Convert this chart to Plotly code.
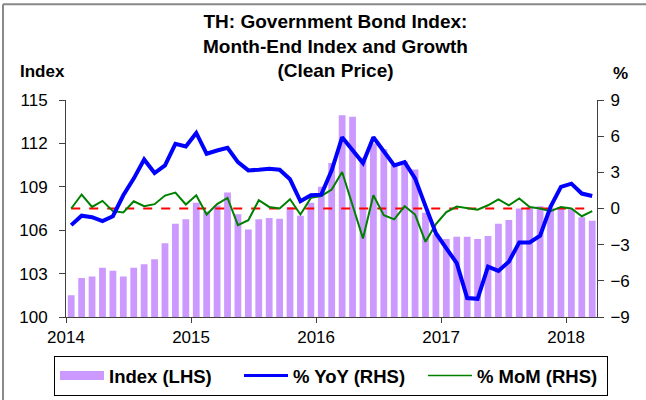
import plotly.graph_objects as go

# Monthly data, Jan 2014 .. Mar 2018
months = list(range(51))
index_lhs = [101.5, 102.7, 102.8, 103.4, 103.2, 102.8, 103.4, 103.65, 104.0, 105.1,
             106.45, 106.75, 107.9, 107.3, 107.7, 108.6, 107.1, 106.05, 106.75, 106.85,
             106.8, 107.6, 107.0, 107.9, 109.0, 110.65, 113.95, 113.85, 111.0, 112.0,
             111.6, 110.5, 110.75, 110.2, 107.2, 105.7, 105.4, 105.55, 105.55, 105.4,
             105.6, 106.45, 106.7, 107.5, 107.6, 107.65, 107.55, 107.6, 107.45, 106.9,
             106.65]
yoy_rhs = [-1.38, -0.6, -0.72, -1.05, -0.64, 1.1, 2.48, 4.07, 2.94, 3.58,
           5.37, 5.14, 6.27, 4.54, 4.81, 5.04, 3.85, 3.16, 3.22, 3.3,
           3.22, 2.42, 0.6, 1.1, 1.15, 3.16, 5.91, 4.85, 3.77, 5.91,
           4.75, 3.58, 3.85, 2.5, 0.2, -2.05, -3.3, -4.54, -7.43, -7.49,
           -4.82, -5.18, -4.41, -2.81, -2.81, -2.26, 0.13, 1.79, 2.06, 1.24,
           1.04]
mom_rhs = [0.0, 1.16, 0.13, 0.63, -0.22, -0.33, 0.6, 0.19, 0.36, 1.07,
           1.32, 0.33, 1.1, -0.5, 0.36, 0.88, -1.38, -0.97, 0.69, 0.13,
           0.0, 0.77, -0.5, 0.88, 1.04, 1.57, 3.03, 0.2, -2.48, 1.1,
           -0.55, -0.9, 0.19, -0.5, -2.76, -1.3, -0.3, 0.16, 0.0, -0.1,
           0.27, 0.76, 0.27, 0.83, 0.13, 0.0, -0.22, 0.13, 0.0, -0.64,
           -0.22]
zero_line = [0.0] * len(months)
year_ticks = [-0.5, 11.5, 23.5, 35.5, 47.5]
year_labels = ["2014", "2015", "2016", "2017", "2018"]
left_ticks = [100, 103, 106, 109, 112, 115]
right_ticks = [-9, -6, -3, 0, 3, 6, 9]

FONT = "Liberation Sans, Arial, sans-serif"
PURPLE = "#CC99FF"
AX = "#404040"

fig = go.Figure()
fig.add_trace(go.Bar(x=months, y=index_lhs, marker_color=PURPLE, marker_line_width=0,
                     showlegend=False, yaxis="y"))
fig.add_trace(go.Scatter(x=months, y=zero_line, mode="lines", yaxis="y2",
                         line=dict(color="#FF0000", width=2, dash="dash"), showlegend=False))
fig.add_trace(go.Scatter(x=months, y=mom_rhs, mode="lines", yaxis="y2",
                         line=dict(color="#008000", width=2), showlegend=False))
fig.add_trace(go.Scatter(x=months, y=yoy_rhs, mode="lines", yaxis="y2",
                         line=dict(color="#0000FF", width=4), showlegend=False))
# legend entries
fig.add_trace(go.Scatter(x=[None], y=[None], mode="lines", yaxis="y2", name="Index (LHS)",
                         line=dict(color=PURPLE, width=9)))
fig.add_trace(go.Scatter(x=[None], y=[None], mode="lines", yaxis="y2", name="% YoY (RHS)",
                         line=dict(color="#0000FF", width=3)))
fig.add_trace(go.Scatter(x=[None], y=[None], mode="lines", yaxis="y2", name="% MoM (RHS)",
                         line=dict(color="#008000", width=1.5)))

fig.update_layout(
    width=646, height=400,
    margin=dict(l=66, r=49, t=100, b=83, autoexpand=False),
    paper_bgcolor="white", plot_bgcolor="white",
    font=dict(family=FONT, size=17, color="black"),
    bargap=0.35,
    xaxis=dict(range=[-0.5, 50.46], tickmode="array", tickvals=year_ticks, ticktext=year_labels,
               showgrid=False, zeroline=False, showline=True, linecolor=AX, linewidth=1,
               ticks="outside", ticklen=5, tickcolor=AX, tickfont=dict(size=17)),
    yaxis=dict(range=[100, 115], tickmode="array", tickvals=left_ticks,
               showgrid=False, zeroline=False, showline=True, linecolor=AX, linewidth=1,
               ticks="outside", ticklen=6, tickcolor=AX, tickfont=dict(size=17),
               ticklabelstandoff=8),
    yaxis2=dict(range=[-9, 9], tickmode="array", tickvals=right_ticks, overlaying="y", side="right",
                showgrid=False, zeroline=False, showline=True, linecolor=AX, linewidth=1,
                ticks="outside", ticklen=6, tickcolor=AX, tickfont=dict(size=17),
                ticklabelstandoff=3),
    legend=dict(orientation="h", xref="paper", yref="paper",
                x=-0.0226, xanchor="left", y=-0.18, yanchor="top",
                bordercolor="black", borderwidth=1, bgcolor="white",
                font=dict(family=FONT, size=18.5, color="black", weight="bold"),
                itemwidth=44, entrywidth=125, tracegroupgap=0),
    annotations=[
        dict(text="<b>TH: Government Bond Index:<br>Month-End Index and Growth<br>(Clean Price)</b>",
             x=0.508, xref="paper", y=1.249, yref="paper", showarrow=False,
             xanchor="center", yanchor="middle", align="center",
             font=dict(family=FONT, size=19, color="black")),
        dict(text="<b>Index</b>", x=-0.045, xref="paper", y=1.13, yref="paper",
             showarrow=False, xanchor="center", yanchor="middle", font=dict(size=17)),
        dict(text="<b>%</b>", x=1.045, xref="paper", y=1.12, yref="paper",
             showarrow=False, xanchor="center", yanchor="middle", font=dict(size=17)),
    ],
    shapes=[
        dict(type="line", xref="paper", yref="paper", x0=-0.1186, x1=-0.1186, y0=-0.4, y1=1.4417,
             line=dict(color="#888888", width=2)),
        dict(type="line", xref="paper", yref="paper", x0=-0.1186, x1=1.12, y0=1.4417, y1=1.4417,
             line=dict(color="#888888", width=2)),
    ],
)

fig.write_html("out.html", config={"displayModeBar": False},
               post_script="document.body.style.margin='0px';document.body.style.overflow='hidden';")
